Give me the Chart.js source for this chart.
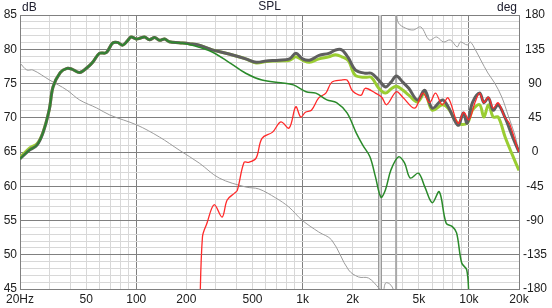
<!DOCTYPE html>
<html>
<head>
<meta charset="utf-8">
<script src="https://cdn.jsdelivr.net/npm/chart.js@4.4.1/dist/chart.umd.min.js"></script>
<style>
  html, body { margin: 0; padding: 0; background: #fff; }
  canvas { display: block; }
</style>
</head>
<body>
<canvas id="splChart" width="552" height="308"></canvas>
<script>
// measured sum (dark grey)
const totalFreq = [20, 22.9, 25.3, 27.5, 30, 31.6, 34.9, 38.3, 41, 45.7, 50.6, 54.7, 60, 66, 72, 77, 83, 89, 93, 100, 105, 112, 120, 129, 138, 148, 158, 181, 208, 239, 286, 361, 455, 526, 605, 720, 835, 911, 1000, 1100, 1256, 1437, 1580, 1722, 1889, 2072, 2380, 2590, 2870, 3150, 3400, 3660, 4000, 4350, 4900, 5430, 6020, 6920, 7500, 8600, 9260, 9750, 10500, 11600, 12300, 13100, 14000, 15000, 16500, 18300, 20000];
const totalDb = [64.0, 65.3, 66.0, 67.8, 71.2, 74.5, 76.6, 77.2, 77.1, 76.6, 77.3, 78.1, 79.4, 79.5, 80.9, 81.0, 80.6, 81.3, 81.8, 81.5, 81.6, 81.8, 81.4, 81.7, 81.3, 81.5, 81.1, 80.95, 80.8, 80.6, 79.9, 79.3, 78.6, 78.1, 78.3, 78.4, 78.6, 79.4, 78.6, 78.4, 79.1, 79.4, 79.9, 79.9, 78.7, 77.0, 76.5, 76.5, 75.5, 74.5, 75.2, 76.1, 75.2, 74.3, 72.6, 74.0, 71.4, 72.6, 71.6, 68.9, 70.7, 69.2, 72.2, 73.6, 72.2, 72.9, 71.1, 71.9, 70.0, 67.2, 65.0];

// simulated sum (yellow green)
const simFreq = [20, 22.9, 25.3, 27.5, 30, 31.6, 34.9, 38.3, 41, 45.7, 50.6, 54.7, 60, 66, 72, 77, 83, 89, 93, 100, 105, 112, 120, 129, 138, 148, 158, 181, 208, 239, 286, 361, 455, 526, 605, 720, 835, 911, 1000, 1100, 1256, 1437, 1580, 1722, 1889, 2072, 2380, 2590, 2870, 3150, 3400, 3660, 4000, 4350, 4900, 5430, 6020, 6920, 7500, 8600, 9750, 10500, 11600, 12300, 13100, 14000, 15000, 16500, 18300, 20000];
const simDb = [64.2, 65.6, 66.2, 67.9, 71.2, 74.5, 76.6, 77.2, 77.1, 76.6, 77.3, 78.1, 79.4, 79.5, 80.9, 81.0, 80.6, 81.3, 81.8, 81.5, 81.6, 81.8, 81.4, 81.7, 81.3, 81.5, 81.1, 80.95, 80.8, 80.6, 79.9, 79.3, 78.6, 78.0, 78.2, 78.3, 78.4, 78.9, 78.4, 78.1, 78.6, 78.9, 79.2, 78.9, 78.3, 76.2, 75.9, 75.9, 74.3, 73.6, 74.2, 74.6, 74.05, 73.3, 72.3, 73.6, 71.1, 71.9, 71.4, 69.2, 69.2, 71.1, 71.9, 70.1, 71.9, 70.1, 70.1, 67.2, 64.5, 62.3];

// woofer (green)
const wooferFreq = [20, 22.9, 25.3, 27.5, 30, 31.6, 34.9, 38.3, 41, 45.7, 50.6, 54.7, 60, 66, 72, 77, 83, 89, 93, 100, 105, 112, 120, 129, 138, 148, 158, 181, 208, 239, 286, 361, 455, 570, 740, 880, 1050, 1200, 1400, 1600, 1850, 2100, 2300, 2540, 2740, 2960, 3150, 3400, 3770, 4100, 4440, 4970, 5430, 6020, 6630, 7300, 7950, 8430, 9050, 9700, 10000, 10300];
const wooferDb = [64.0, 65.3, 66.0, 67.8, 71.2, 74.5, 76.6, 77.2, 77.1, 76.6, 77.3, 78.1, 79.4, 79.5, 80.9, 81.0, 80.6, 81.3, 81.8, 81.5, 81.6, 81.8, 81.4, 81.7, 81.3, 81.5, 81.1, 80.95, 80.7, 80.3, 79.6, 78.1, 76.5, 75.5, 75.1, 74.8, 73.8, 73.6, 72.6, 72.2, 70.7, 67.8, 66.0, 64.3, 61.4, 58.4, 59.5, 62.4, 64.3, 63.4, 61.2, 61.9, 59.9, 57.6, 59.2, 54.6, 54.1, 53.2, 48.8, 47.8, 44.0, 40.0];

// tweeter (red)
const tweeterFreq = [240, 250, 266, 294, 328, 352, 390, 405, 445, 475, 525, 570, 660, 740, 830, 910, 975, 1040, 1130, 1250, 1380, 1500, 1700, 1850, 1970, 2070, 2250, 2380, 2740, 2990, 3200, 3660, 4000, 4720, 5280, 5800, 6300, 6900, 7500, 8600, 9300, 10000, 10900, 11600, 12300, 13100, 14000, 15000, 16400, 17500, 19500, 20000];
const tweeterDb = [40.0, 52.6, 54.6, 57.3, 55.5, 58.0, 59.0, 59.4, 63.5, 63.5, 64.1, 67.0, 67.9, 69.4, 68.5, 71.6, 70.1, 70.8, 71.1, 72.9, 73.6, 75.2, 75.5, 75.5, 74.1, 73.6, 73.3, 74.3, 73.6, 73.0, 71.9, 73.8, 73.0, 71.4, 73.6, 72.2, 73.6, 71.9, 72.9, 69.2, 70.8, 69.7, 72.3, 73.6, 72.2, 73.0, 71.4, 72.2, 70.1, 69.2, 65.7, 65.0];

// phase (thin grey, right axis), null = wrap
const phaseFreq = [20, 22, 23.9, 30.1, 38.2, 45.7, 57.9, 69.3, 100.8, 137.8, 181, 239, 315, 455, 546, 690, 827, 990, 1250, 1495, 1890, 2170, 2490, 2870, 3030, 3160, 3400, 3590, 3630, 3660, 3770, 4140, 4620, 5140, 5780, 6400, 7020, 7730, 8500, 8880, 9780, 10200, 10950, 11780, 13000, 14270, 15750, 17340, 18900, 20000];
const phaseDeg = [116.9, 107.7, 107.7, 94.6, 81.5, 68.3, 57.8, 48.6, 35.5, 19.7, 2.6, -14.5, -34.2, -46.0, -48.6, -60.4, -72.3, -89.4, -105.1, -115.6, -155.0, -164.2, -165.6, -178.7, -186, -172, -175, -186, null, 182, 169.5, 162.9, 160.3, 164.2, 147.2, 151.1, 144.5, 147.2, 138.0, 144.5, 140.6, 144.5, 134.0, 120.9, 103.8, 90.7, 72.3, 46.0, 22.3, 0];

// axes
const gridFreqs = [20, 30, 40, 50, 60, 70, 80, 90, 100, 200, 300, 400, 500, 600, 700, 800, 900, 1000, 2000, 3000, 4000, 5000, 6000, 7000, 8000, 9000, 10000, 20000];
const majorFreqs = [20, 100, 1000, 10000, 20000];
const freqLabels = { 20: '20Hz', 50: '50', 100: '100', 200: '200', 500: '500', 1000: '1k', 2000: '2k', 5000: '5k', 10000: '10k', 20000: '20k' };
const markerBand = [2850, 2960];
const markerLine = 3650;

function pts(xs, ys) {
  return xs.map((x, i) => ({ x: x, y: ys[i] }));
}

Chart.defaults.font.family = '"Liberation Sans", Arial, sans-serif';
Chart.defaults.font.size = 12;
Chart.defaults.color = '#202020';

const markers = {
  id: 'markers',
  beforeDatasetsDraw(chart) {
    const c = chart.ctx, x = chart.scales.x, a = chart.chartArea;
    c.save();
    const x1 = x.getPixelForValue(markerBand[0]), x2 = x.getPixelForValue(markerBand[1]);
    c.fillStyle = '#d4d4d4';
    c.fillRect(x1, a.top, x2 - x1, a.bottom - a.top);
    c.strokeStyle = '#9a9a9a';
    c.lineWidth = 1;
    c.beginPath();
    c.moveTo(Math.round(x1) + 0.5, a.top); c.lineTo(Math.round(x1) + 0.5, a.bottom);
    c.moveTo(Math.round(x2) + 0.5, a.top); c.lineTo(Math.round(x2) + 0.5, a.bottom);
    c.stroke();
    const xl = x.getPixelForValue(markerLine);
    c.strokeStyle = '#a8a8a8';
    c.lineWidth = 2;
    c.beginPath();
    c.moveTo(xl, a.top); c.lineTo(xl, a.bottom);
    c.stroke();
    c.restore();
  },
  afterDraw(chart) {
    const c = chart.ctx, a = chart.chartArea;
    c.save();
    c.font = '12px "Liberation Sans", Arial, sans-serif';
    c.fillStyle = '#202030';
    c.textBaseline = 'alphabetic';
    c.textAlign = 'center';
    c.fillText('SPL', (a.left + a.right) / 2, 10);
    c.textAlign = 'left';
    c.fillText('dB', a.left + 2, 11);
    c.textAlign = 'right';
    c.fillText('deg', a.right - 2, 11);
    c.restore();
  }
};

const ctx = document.getElementById('splChart').getContext('2d');
const splChart = new Chart(ctx, {
  type: 'line',
  data: {
    datasets: [
      { label: 'Phase', data: pts(phaseFreq, phaseDeg), yAxisID: 'y2', borderColor: '#9c9c9c', borderWidth: 1, order: 5, spanGaps: false },
      { label: 'Sim', data: pts(simFreq, simDb), borderColor: '#9acd32', borderWidth: 3, order: 4 },
      { label: 'Total', data: pts(totalFreq, totalDb), borderColor: '#5f5f5f', borderWidth: 3, order: 3 },
      { label: 'Tweeter', data: pts(tweeterFreq, tweeterDb), borderColor: '#ff2a2a', borderWidth: 1.3, order: 2 },
      { label: 'Woofer', data: pts(wooferFreq, wooferDb), borderColor: '#2a8a2a', borderWidth: 1.5, order: 1 }
    ]
  },
  options: {
    responsive: false,
    animation: false,
    layout: { padding: { top: 15 } },
    elements: { point: { radius: 0 }, line: { tension: 0.35, fill: false } },
    plugins: { legend: { display: false }, tooltip: { enabled: false } },
    scales: {
      x: {
        type: 'logarithmic', min: 20, max: 20000,
        afterBuildTicks: s => { s.ticks = gridFreqs.map(v => ({ value: v })); },
        afterFit: s => { s.height = 19; },
        ticks: { autoSkip: false, maxRotation: 0, padding: 3, callback: v => freqLabels[v] || '' },
        grid: { drawTicks: false, color: c => (c.tick && majorFreqs.includes(c.tick.value)) ? '#808080' : '#d8d8d8' },
        border: { color: '#808080' }
      },
      y: {
        position: 'left', min: 45, max: 85,
        afterFit: s => { s.width = 20; },
        ticks: { stepSize: 1, autoSkip: false, padding: 3, crossAlign: 'center', callback: v => (v % 5 === 0) ? String(v) : '' },
        grid: { drawTicks: false, color: c => (c.tick && c.tick.value % 5 === 0) ? '#808080' : '#d8d8d8' },
        border: { color: '#808080' }
      },
      y2: {
        position: 'right', min: -180, max: 180,
        afterFit: s => { s.width = 33; },
        ticks: { stepSize: 45, padding: 4, crossAlign: 'center' },
        grid: { drawOnChartArea: false, drawTicks: false },
        border: { color: '#808080' }
      }
    }
  },
  plugins: [markers]
});
</script>
</body>
</html>
